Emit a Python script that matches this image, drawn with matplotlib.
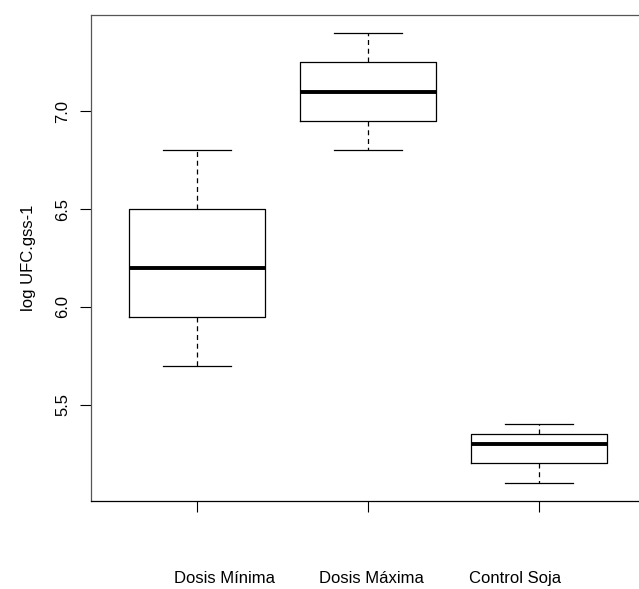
import matplotlib
matplotlib.use("Agg")
import matplotlib.pyplot as plt
import matplotlib.transforms as mtransforms

plt.rcParams['font.family'] = ['Liberation Sans', 'DejaVu Sans']

# Boxplot summaries
groups = ["Dosis Mínima", "Dosis Máxima", "Control Soja"]
whisker_low = [5.70, 6.80, 5.10]
q1 = [5.95, 6.95, 5.20]
median = [6.20, 7.10, 5.30]
q3 = [6.50, 7.25, 5.35]
whisker_high = [6.80, 7.40, 5.40]
yticks = [5.5, 6.0, 6.5, 7.0]
label_x = [1.16, 2.02, 2.86]

stats = []
for g, lo, a, m, b, hi in zip(groups, whisker_low, q1, median, q3, whisker_high):
    stats.append({"label": g, "whislo": lo, "q1": a, "med": m, "q3": b,
                  "whishi": hi, "fliers": []})

fig = plt.figure(figsize=(6.39, 5.89), dpi=100)
# plot region runs past the right edge of the picture, as in the original
ax = fig.add_axes([91 / 639, 88 / 589, 554 / 639, 486 / 589])

ax.bxp(stats, positions=[1, 2, 3], widths=0.8, capwidths=0.4,
       showfliers=False,
       boxprops=dict(color="black", linewidth=0.9),
       medianprops=dict(color="black", linewidth=2.8, solid_capstyle="butt"),
       whiskerprops=dict(color="black", linewidth=0.9, linestyle=(0, (4, 3))),
       capprops=dict(color="black", linewidth=0.9))

n = len(groups)
pad = 0.04 * n
ax.set_xlim(0.5 - pad, n + 0.5 + pad)
ymin, ymax = min(whisker_low), max(whisker_high)
ypad = 0.04 * (ymax - ymin)
ax.set_ylim(ymin - ypad, ymax + ypad)

ax.set_xticks([1, 2, 3])
ax.set_xticklabels([])
ax.set_yticks(yticks)
ax.set_yticklabels([f"{v:.1f}" for v in yticks], rotation=90, va="center",
                   fontsize=12)
ax.tick_params(direction="out", length=7.7, width=0.8, pad=7)
for s in ax.spines.values():
    s.set_linewidth(0.9)
ax.spines["left"].set_color("#555555")
ax.spines["top"].set_color("#555555")

ax.set_ylabel("log UFC.gss-1", fontsize=12, labelpad=14)

trans = mtransforms.blended_transform_factory(ax.transData, ax.transAxes)
for x, g in zip(label_x, groups):
    ax.text(x, -0.16, g, transform=trans, ha="center", va="center", fontsize=12)

fig.savefig("out.png", dpi=100)
